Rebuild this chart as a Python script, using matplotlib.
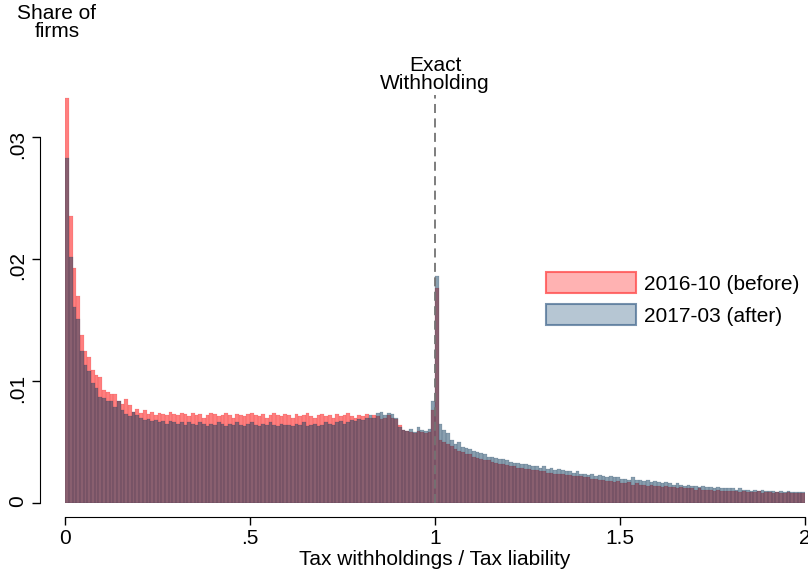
import numpy as np
import matplotlib.pyplot as plt

plt.rcParams['font.family'] = ['Liberation Sans', 'DejaVu Sans']

# bin left edges, width 0.01, from 0 to 2
bin_width = 0.01
bin_edges = np.arange(0, 2.0, bin_width)

# share of firms (x 1e-4), 2016-10 (before)
before = [
    332, 235, 193, 170, 138, 125, 120, 109, 105, 103, 93, 91, 89, 89, 84, 81, 85, 80, 75, 77,
    74, 76, 73, 75, 72, 74, 73, 72, 75, 73, 72, 74, 73, 71, 74, 72, 73, 70, 72, 74,
    73, 71, 72, 74, 72, 70, 73, 72, 71, 73, 74, 72, 71, 73, 70, 72, 74, 72, 71, 73,
    72, 70, 73, 71, 72, 74, 71, 70, 72, 73, 71, 72, 70, 73, 71, 72, 74, 71, 70, 72,
    71, 73, 70, 72, 71, 69, 70, 72, 70, 69, 64, 60, 59, 58, 57, 59, 58, 57, 58, 76,
    176, 52, 50, 48, 47, 44, 43, 42, 40, 40, 38, 37, 36, 35, 35, 34, 33, 32, 32, 31,
    30, 30, 29, 29, 28, 28, 27, 27, 26, 26, 25, 25, 24, 24, 24, 23, 23, 22, 22, 22,
    21, 21, 20, 20, 19, 19, 18, 18, 17, 18, 16, 16, 17, 15, 16, 15, 15, 14, 15, 14,
    14, 13, 14, 13, 13, 12, 13, 12, 12, 12, 11, 12, 11, 11, 11, 10, 11, 10, 10, 10,
    10, 10, 9, 10, 9, 9, 9, 10, 8, 9, 9, 8, 9, 8, 8, 9, 8, 8, 8, 8,
]

# share of firms (x 1e-4), 2017-03 (after)
after = [
    283, 202, 161, 151, 125, 113, 108, 98, 94, 87, 86, 84, 84, 79, 84, 76, 73, 71, 75, 72,
    70, 68, 69, 67, 68, 66, 67, 65, 67, 66, 65, 66, 64, 66, 65, 64, 66, 65, 63, 65,
    64, 66, 65, 63, 65, 64, 66, 64, 63, 65, 66, 64, 63, 65, 64, 66, 64, 63, 65, 64,
    64, 63, 65, 64, 66, 63, 64, 65, 63, 64, 66, 65, 64, 66, 67, 65, 66, 68, 67, 69,
    68, 70, 72, 70, 74, 75, 72, 74, 73, 70, 62, 60, 59, 61, 58, 62, 60, 59, 61, 84,
    186, 65, 60, 57, 52, 48, 50, 46, 45, 44, 43, 42, 41, 40, 38, 38, 37, 36, 36, 35,
    34, 33, 33, 32, 32, 31, 30, 30, 29, 30, 28, 29, 27, 28, 27, 26, 26, 25, 26, 24,
    24, 23, 24, 22, 23, 22, 21, 22, 21, 21, 20, 20, 19, 21, 19, 19, 18, 19, 17, 18,
    17, 16, 17, 16, 15, 16, 15, 14, 15, 14, 14, 13, 14, 13, 13, 12, 13, 12, 12, 12,
    12, 11, 12, 11, 11, 10, 11, 10, 11, 10, 10, 10, 9, 10, 9, 10, 9, 9, 9, 9,
]

before = np.array(before) * 1e-4
after = np.array(after) * 1e-4

fig = plt.figure(figsize=(8.08, 5.78), dpi=100)
ax = fig.add_axes([65 / 808, 75 / 578, 740 / 808, 427 / 578])

ax.bar(bin_edges, before, width=bin_width, align='edge', color=(1, 0, 0, 0.5),
       edgecolor=(0.8, 0.1, 0.1, 0.25), linewidth=0.3, label='2016-10 (before)')
ax.bar(bin_edges, after, width=bin_width, align='edge', color=(0.08, 0.25, 0.38, 0.5),
       edgecolor=(0.08, 0.2, 0.33, 0.3), linewidth=0.3, label='2017-03 (after)')

ax.axvline(1, ymin=0, ymax=(503 - 95) / 427, color='0.45', linestyle=(0, (5, 3)), linewidth=1.3)
ax.text(1, 0.0336, 'Exact\nWithholding', ha='center', va='bottom', fontsize=15, linespacing=0.95)

ax.set_xlim(0 - 0.0005, 2.0)
ax.set_ylim(0, 0.035)
ax.set_xticks([0, 0.5, 1, 1.5, 2])
ax.set_xticklabels(['0', '.5', '1', '1.5', '2'])
ax.set_yticks([0, 0.01, 0.02, 0.03])
ax.set_yticklabels(['0', '.01', '.02', '.03'])
ax.tick_params(labelsize=15, length=6, width=1, pad=3)
ax.tick_params(axis='y', labelrotation=90)
for lab in ax.get_yticklabels():
    lab.set_verticalalignment('center')

for s in ['top', 'right']:
    ax.spines[s].set_visible(False)
ax.spines['left'].set_position(('outward', 18))
ax.spines['bottom'].set_position(('outward', 10))
ax.spines['left'].set_bounds(0, 0.03)
ax.spines['bottom'].set_bounds(0, 2)

ax.set_xlabel('Tax withholdings / Tax liability', fontsize=15, labelpad=1)
fig.text(57 / 808, 1 - 4 / 578, 'Share of\nfirms', ha='center', va='top', fontsize=15,
         linespacing=0.95, multialignment='center')

leg = ax.legend(loc='upper left', bbox_to_anchor=(0.625, 0.585), frameon=False, fontsize=15,
                handlelength=4.3, handleheight=1.2, handletextpad=0.4, labelspacing=0.5)
leg.legend_handles[0].set_facecolor((1, 0.4, 0.4, 0.5))
leg.legend_handles[0].set_edgecolor((1, 0.3, 0.3, 0.8))
leg.legend_handles[0].set_linewidth(1.5)
leg.legend_handles[1].set_facecolor((0.25, 0.42, 0.55, 0.38))
leg.legend_handles[1].set_edgecolor((0.25, 0.4, 0.55, 0.7))
leg.legend_handles[1].set_linewidth(1.5)

fig.savefig('out.png', dpi=100)
